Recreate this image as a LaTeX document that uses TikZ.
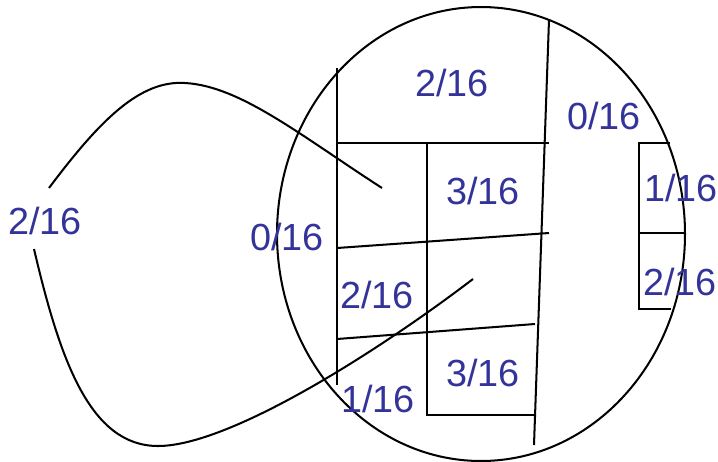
\documentclass[tikz,border=0pt]{standalone}
\usepackage{fontspec}
\setmainfont{Liberation Sans}
\usetikzlibrary{positioning}
\definecolor{fracblue}{RGB}{51,51,153}
\tikzset{
	fraclabel/.style={font=\fontsize{21.5}{25}\selectfont\color{fracblue}, inner sep=0pt}
}
\tikzset{
	cutline/.style={line width=1.15pt}
}

\begin{document}
\begin{tikzpicture}[x=0.02cm,y=-0.02cm]
      \useasboundingbox (0,0) rectangle (718,461);
      \draw[cutline] (481,234) ellipse [x radius=204, y radius=227];
      % inner regions
      \draw[cutline] (337,68) -- (337,385);
      \draw[cutline] (549,20) -- (534,445);
      \draw[cutline] (337,143) -- (549,143);
      \draw[cutline] (427,143) -- (427,415) -- (535,415);
      \draw[cutline] (337,248) -- (549,233);
      \draw[cutline] (337,339) -- (535,324);
      \draw[cutline] (670,143) -- (639,143) -- (639,309) -- (671,309);
      \draw[cutline] (639,233) -- (685,233);
      % outer loop
      \draw[cutline] (49,188) .. controls (100,120) and (140,80) .. (185,83)
        .. controls (240,86) and (300,135) .. (382,188);
      \draw[cutline] (34,249) .. controls (60,360) and (90,446) .. (158,446)
        .. controls (230,446) and (380,350) .. (473,279);
      \foreach \n/\x/\y/\k in {out/45/221/2, lft/287/237/0, top/452/83/2,
        rtop/604/116/0, up/483/191/3, mid/377/295/2, low/483/373/3,
        bot/378/399/1, ra/681/188/1, rb/680/282/2}
        \node[fraclabel] (f\n) at (\x,\y) {\k/16};
    \end{tikzpicture}
\end{document}
